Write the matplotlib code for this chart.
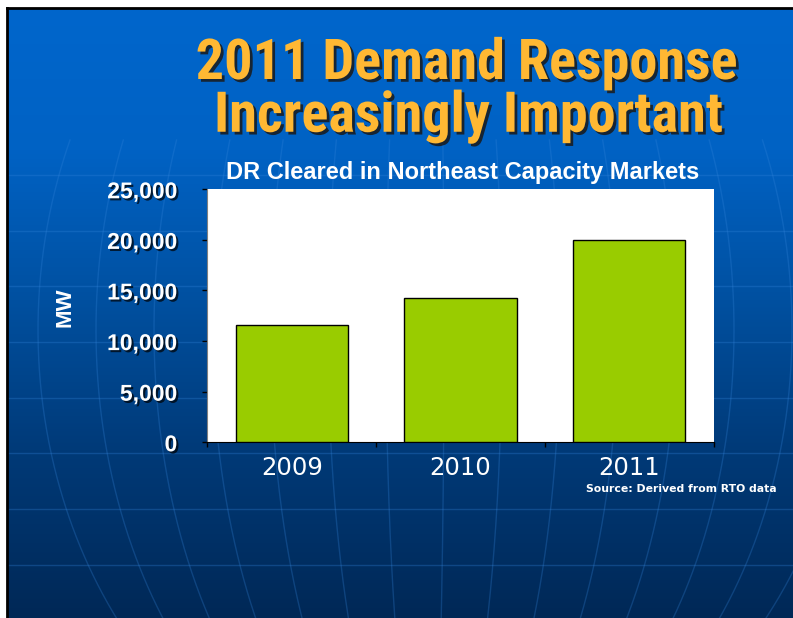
import numpy as np
import matplotlib
matplotlib.use('Agg')
from matplotlib import pyplot as plt
from matplotlib import patheffects as pe
from matplotlib import font_manager
from matplotlib.ticker import FuncFormatter

# data
years = ['2009', '2010', '2011']
dr_cleared_mw = [11600, 14300, 20000]
y_ticks = [0, 5000, 10000, 15000, 20000, 25000]


def find_narrow_bold():
    # look for an installed condensed bold face for the slide title
    prefs = ['liberation sans narrow', 'arial narrow', 'roboto condensed',
             'open sans condensed', 'noto sans condensed', 'dejavu sans condensed']
    found = {}
    for f in font_manager.fontManager.ttflist:
        label = (f.name + ' ' + f.fname).lower()
        if ('narrow' in label or 'condensed' in label) and 'semi' not in label and 'extra' not in label:
            w = f.weight if isinstance(f.weight, int) else (700 if 'bold' in str(f.weight) else 400)
            if w >= 600 and 'italic' not in label and 'oblique' not in label:
                for i, p in enumerate(prefs):
                    if p.split()[0] in label:
                        found.setdefault(i, f.fname)
                        break
                else:
                    found.setdefault(99, f.fname)
    if found:
        return font_manager.FontProperties(fname=found[min(found)]), 40.5
    return font_manager.FontProperties(family='Liberation Sans', weight='bold'), 31


W, H = 793, 618
fig = plt.figure(figsize=(W / 100, H / 100), dpi=100)
fig.patch.set_facecolor('white')

# slide background: blue gradient with faint globe lines
bg = fig.add_axes([0, 0, 1, 1])
bg.set_xlim(0, W)
bg.set_ylim(H, 0)
bg.axis('off')
stops_y = [8, 150, 300, 450, 618]
stops_c = np.array([[0, 102, 204], [0, 98, 196], [0, 80, 160], [0, 58, 120], [0, 40, 86]]) / 255
rows = np.arange(8, H + 1)
grad = np.stack([np.interp(rows, stops_y, stops_c[:, k]) for k in range(3)], axis=1)
img = np.repeat(grad[:, None, :], 2, axis=1)
bg.imshow(img, extent=[7, W, H, 8], aspect='auto', interpolation='bilinear')

line_col = '#3585db'
for yy in np.arange(175, H, 55.7):
    bg.plot([7, W], [yy, yy], color=line_col, lw=1, alpha=0.3)
cx, cy, R = 430, 330, 480
yy = np.linspace(140, H, 200)
coslat = np.sqrt(np.clip(1 - ((yy - cy) / R) ** 2, 0, None))
for a in np.arange(-392, 500, 58):
    bg.plot(cx + a * coslat, yy, color=line_col, lw=1, alpha=0.28)

bg.plot([6.5, 6.5], [7.5, H], color='black', lw=2)
bg.plot([6.5, W], [7.5, 7.5], color='black', lw=2)

shadow = [pe.SimplePatchShadow(offset=(1.5, -1.5), shadow_rgbFace='black', alpha=0.7), pe.Normal()]
title_shadow = [pe.SimplePatchShadow(offset=(2, -2), shadow_rgbFace='#1a1a1a', alpha=0.85), pe.Normal()]

title_font, title_size = find_narrow_bold()
fig.text(467 / W, 1 - 64 / H, '2011 Demand Response', ha='center', va='center',
         color='#FFB833', fontproperties=title_font, fontsize=title_size, path_effects=title_shadow)
fig.text(469 / W, 1 - 117 / H, 'Increasingly Important', ha='center', va='center',
         color='#FFB833', fontproperties=title_font, fontsize=title_size, path_effects=title_shadow)

fig.text(463 / W, 1 - 172.5 / H, 'DR Cleared in Northeast Capacity Markets', ha='center', va='center',
         color='white', fontsize=17, fontweight='bold', family='Liberation Sans')

# chart
ax = fig.add_axes([207.3 / W, 1 - 442.3 / H, 506.4 / W, 253 / H])
ax.set_facecolor('white')
x = np.arange(len(years))
ax.bar(x, dr_cleared_mw, width=0.665, color='#99CC00', edgecolor='black', linewidth=1, zorder=3)
ax.set_xlim(-0.5, len(years) - 0.5)
ax.set_ylim(0, 25000)
ax.set_yticks(y_ticks)
ax.yaxis.set_major_formatter(FuncFormatter(lambda v, p: f'{int(v):,}'))
for sp in ['top', 'right']:
    ax.spines[sp].set_visible(False)
ax.spines['left'].set_color('#808080')
ax.spines['bottom'].set_color('black')
ax.tick_params(axis='y', length=3.6, width=1, color='black', pad=18)
for lab in ax.get_yticklabels():
    lab.set_color('white')
    lab.set_fontsize(16.5)
    lab.set_fontweight('bold')
    lab.set_family('Liberation Sans')
    lab.set_path_effects(shadow)

ax.set_xticks(np.arange(-0.5, len(years)))
ax.set_xticklabels([])
ax.set_xticks(x, minor=True)
ax.set_xticklabels(years, minor=True)
ax.tick_params(axis='x', which='major', length=3.6, width=1, color='black')
ax.tick_params(axis='x', which='minor', length=0, pad=10, labelsize=17.5, labelcolor='white')

fig.text(65 / W, 1 - 307 / H, 'MW', rotation=90, ha='center', va='center',
         color='white', fontsize=16, fontweight='bold', family='Liberation Sans')

fig.text(586 / W, 1 - 489 / H, 'Source: Derived from RTO data', ha='left', va='center',
         color='white', fontsize=7.8, fontweight='bold', family='DejaVu Sans')

fig.savefig('out.png', dpi=100)
